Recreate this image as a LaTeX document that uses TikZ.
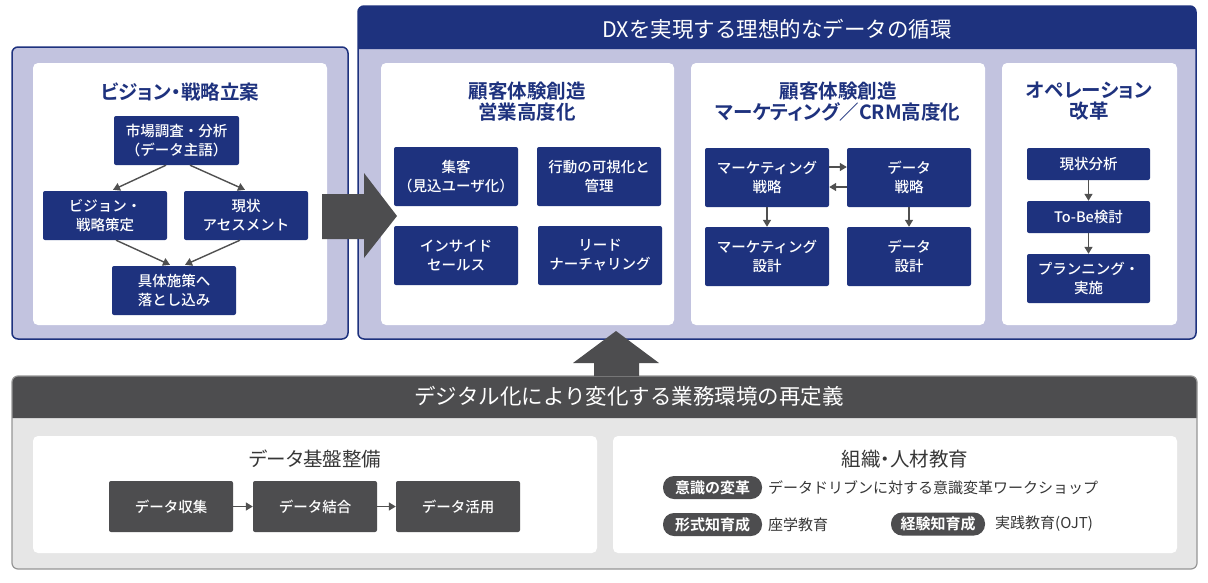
\documentclass[tikz,border=0pt]{standalone}
\usepackage{fontspec}
\setmainfont{Noto Sans CJK JP}[BoldFont={Noto Sans CJK JP Bold}]
\newfontfamily\jpmed{Noto Sans CJK JP Medium}
\newfontfamily\jpttl{Noto Sans CJK JP Bold}[RawFeature=+palt]
\newfontfamily\jpreg{Noto Sans CJK JP}[RawFeature=+palt]
\usetikzlibrary{arrows.meta,calc}
\definecolor{navy}{RGB}{30,50,126}
\definecolor{lav}{RGB}{194,195,223}
\definecolor{dgray}{RGB}{77,77,79}
\definecolor{lgray}{RGB}{230,230,230}
\definecolor{bgray}{RGB}{150,150,150}
\definecolor{agray}{RGB}{80,80,80}
\definecolor{tgray}{RGB}{55,55,55}
\tikzset{
  nbox/.style={fill=navy, rounded corners=2pt, text=white, font=\jpmed\fontsize{14.5}{19}\selectfont, align=center, inner sep=0pt},
  gbox/.style={fill=dgray, rounded corners=2pt, text=white, font=\jpmed\fontsize{14.5}{19}\selectfont, align=center, inner sep=0pt},
  ptitle/.style={text=navy, font=\jpttl\fontsize{19.5}{21}\selectfont, align=center, inner sep=0pt},
  gtitle/.style={text=tgray, font=\jpreg\fontsize{19.5}{22}\selectfont, align=center, inner sep=0pt},
  htitle/.style={text=white, font=\fontsize{21.5}{24}\selectfont, inner sep=0pt},
  pill/.style={fill=dgray, rounded corners=11pt, text=white, font=\bfseries\fontsize{15}{16}\selectfont, inner sep=0pt, minimum height=23pt},
  btext/.style={text=tgray, font=\fontsize{15}{17}\selectfont, anchor=west, inner sep=0pt},
  conn/.style={draw=agray, line width=1.4pt, -{Triangle[length=7pt,width=8pt]}},
}
\begin{document}
\begin{tikzpicture}[x=1pt,y=-1pt]
\useasboundingbox (0,0) rectangle (1208,582);
\fill[white] (0,0) rectangle (1208,582);

% ---------- left panel ----------
\draw[navy, fill=lav, line width=1.5pt, rounded corners=6pt] (12,47) rectangle (348,339);
\fill[white, rounded corners=5pt] (33,63) rectangle (327,325);
\node[ptitle] (lt) at (180,92) {ビジョン・戦略立案};
\node[nbox, minimum width=125pt, minimum height=49pt] (mr) at (176.5,140.5) {市場調査・分析\\（データ主語）};
\node[nbox, minimum width=124pt, minimum height=49pt] (vs) at (105,215.5) {ビジョン・\\戦略策定};
\node[nbox, minimum width=124pt, minimum height=49pt] (ca) at (246,215.5) {現状\\アセスメント};
\node[nbox, minimum width=124pt, minimum height=49pt] (gs) at (174,290.5) {具体施策へ\\落とし込み};
\draw[conn] ($(mr.south)+(-10.5,0)$) -- ($(vs.north)+(8,-1)$);
\draw[conn] ($(mr.south)+(13.5,0)$) -- ($(ca.north)+(-1,-1)$);
\draw[conn] ($(vs.south)+(11,0)$) -- ($(gs.north)+(-4,-1)$);
\draw[conn] ($(ca.south)+(-6,0)$) -- ($(gs.north)+(11,-1)$);

% ---------- main panel ----------
\fill[lav, rounded corners=6pt] (358,6) rectangle (1196,339);
\fill[navy] (358,49) {[rounded corners=6pt] -- (358,6) -- (1196,6)} -- (1196,49) -- cycle;
\draw[navy, line width=1.5pt, rounded corners=6pt] (358,6) rectangle (1196,339);
\node[htitle] (mt) at (777,29) {DXを実現する理想的なデータの循環};

% panel 1
\fill[white, rounded corners=5pt] (381,63) rectangle (674,325);
\node[ptitle] (p1t) at (527,101.5) {顧客体験創造\\営業高度化};
\node[nbox, minimum width=124pt, minimum height=59pt] (b11) at (456,176.5) {集客\\（見込ユーザ化）};
\node[nbox, minimum width=124pt, minimum height=59pt] (b12) at (599,176.5) {行動の可視化と\\管理};
\node[nbox, minimum width=124pt, minimum height=59pt] (b13) at (456,255.5) {インサイド\\セールス};
\node[nbox, minimum width=124pt, minimum height=59pt] (b14) at (600,255.5) {リード\\ナーチャリング};

% panel 2
\fill[white, rounded corners=5pt] (691,63) rectangle (985,325);
\node[ptitle] (p2t) at (838,101.5) {顧客体験創造\\マーケティング／CRM高度化};
\node[nbox, minimum width=124pt, minimum height=59pt] (ms) at (767,177.5) {マーケティング\\戦略};
\node[nbox, minimum width=124pt, minimum height=59pt] (ds) at (909,177.5) {データ\\戦略};
\node[nbox, minimum width=124pt, minimum height=59pt] (md) at (767,256.5) {マーケティング\\設計};
\node[nbox, minimum width=124pt, minimum height=59pt] (dd) at (909,256.5) {データ\\設計};
\draw[conn] ($(ms.east)+(0,-10.5)$) -- ($(ds.west)+(0,-10.5)$);
\draw[conn] ($(ds.west)+(0,9.5)$) -- ($(ms.east)+(0,9.5)$);
\draw[conn] (ms) -- (md);
\draw[conn] (ds) -- (dd);

% panel 3
\fill[white, rounded corners=5pt] (1002,63) rectangle (1177,325);
\node[ptitle] (p3t) at (1089,101.5) {オペレーション\\改革};
\node[nbox, minimum width=123pt, minimum height=32pt] (o1) at (1088.5,164) {現状分析};
\node[nbox, minimum width=123pt, minimum height=32pt] (o2) at (1088.5,217) {To-Be検討};
\node[nbox, minimum width=123pt, minimum height=49pt] (o3) at (1088.5,278.5) {プランニング・\\実施};
\draw[conn] (o1) -- (o2);
\draw[conn] (o2) -- (o3);

% big right arrow
\fill[dgray] (322,194) -- (364,194) -- (364,173) -- (397,216) -- (364,258) -- (364,239) -- (322,239) -- cycle;

% ---------- bottom band ----------
\fill[lgray, rounded corners=6pt] (12,376) rectangle (1197,569);
\fill[dgray] (12,418) {[rounded corners=6pt] -- (12,376) -- (1197,376)} -- (1197,418) -- cycle;
\draw[bgray, line width=1.2pt, rounded corners=6pt] (12,376) rectangle (1197,569);
\node[htitle] (bt) at (629,396) {デジタル化により変化する業務環境の再定義};

% up arrow
\fill[dgray] (594,376) -- (594,363) -- (573,363) -- (616,331) -- (659,363) -- (639,363) -- (639,376) -- cycle;

% left bottom panel
\fill[white, rounded corners=5pt] (33,436) rectangle (597,553);
\node[gtitle] (dt) at (315,459) {データ基盤整備};
\node[gbox, minimum width=124pt, minimum height=51pt] (g1) at (171,506.5) {データ収集};
\node[gbox, minimum width=124pt, minimum height=51pt] (g2) at (315,506.5) {データ結合};
\node[gbox, minimum width=124pt, minimum height=51pt] (g3) at (458,506.5) {データ活用};
\draw[conn] (g1) -- (g2);
\draw[conn] (g2) -- (g3);

% right bottom panel
\fill[white, rounded corners=5pt] (613,436) rectangle (1177,553);
\node[gtitle] (ot) at (905,459) {組織・人材教育};
\node[pill, minimum width=99pt] (q1) at (712.5,487.5) {意識の変革};
\node[pill, minimum width=99pt] (q2) at (712.5,524.5) {形式知育成};
\node[pill, minimum width=94pt] (q3) at (938,524) {経験知育成};
\node[btext] (t1) at (768,488) {データドリブンに対する意識変革ワークショップ};
\node[btext] (t2) at (768,524.5) {座学教育};
\node[btext] (t3) at (995,524) {実践教育(OJT)};
\end{tikzpicture}
\end{document}
